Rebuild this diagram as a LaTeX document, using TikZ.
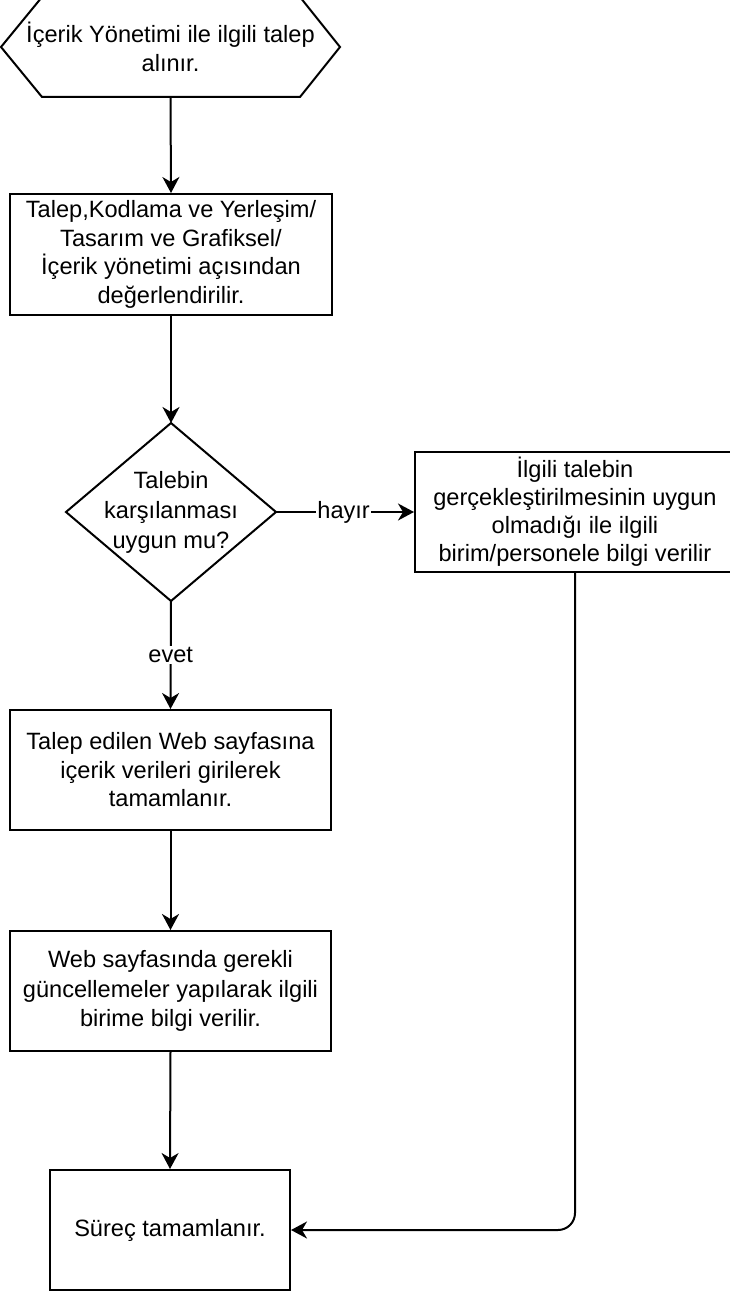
\documentclass[tikz,border=0pt]{standalone}
\usepackage{fontspec}
\setmainfont{Liberation Sans}
\usetikzlibrary{arrows.meta}
\begin{document}
\begin{tikzpicture}[x=1pt,y=-1pt,
  line width=2pt,
  txt/.style={font=\fontsize{23.6}{28.5}\selectfont, align=center, inner sep=0pt},
  box/.style={draw, txt, line width=2pt},
  arr/.style={-{Stealth[length=16pt,width=17pt,inset=5pt]}, line width=2pt},
  lbl/.style={font=\fontsize{23.6}{28.5}\selectfont, fill=white, inner sep=1pt}
]
\useasboundingbox (0,0) rectangle (730,1295);
\clip (0,0) rectangle (730,1295);
% hexagon
\draw (1,47) -- (42,-3) -- (300,-3) -- (340,47) -- (300,97) -- (42,97) -- cycle;
\node[txt, minimum width=339pt, minimum height=100pt] (hex) at (170.5,47) {İçerik Yönetimi ile ilgili talep\\alınır.};
% step 2
\node[box, minimum width=322pt, minimum height=121pt] (eval) at (171,254.5) {Talep,Kodlama ve Yerleşim/\\Tasarım ve Grafiksel/\\İçerik yönetimi açısından\\değerlendirilir.};
% decision
\node[txt, minimum width=208pt, minimum height=176pt, font=\fontsize{23.6}{30}\selectfont] (dec) at (171,512) {Talebin\\karşılanması\\uygun mu?};
\draw (dec.north) -- (dec.east) -- (dec.south) -- (dec.west) -- cycle;
% right box
\node[box, minimum width=320pt, minimum height=120pt, font=\fontsize{23.6}{28}\selectfont] (no) at (575,512) {İlgili talebin\\gerçekleştirilmesinin uygun\\olmadığı ile ilgili\\birim/personele bilgi verilir};
% step 3
\node[box, minimum width=321pt, minimum height=120pt] (fill) at (170.5,770) {Talep edilen Web sayfasına\\içerik verileri girilerek\\tamamlanır.};
% step 4
\node[box, minimum width=321pt, minimum height=120pt, font=\fontsize{23.6}{29.5}\selectfont] (upd) at (170.5,991) {Web sayfasında gerekli\\güncellemeler yapılarak ilgili\\birime bilgi verilir.};
% end
\node[box, minimum width=240pt, minimum height=120pt] (end) at (170,1230) {Süreç tamamlanır.};
% connectors
\draw[arr] (hex.south) -- (eval.north);
\draw[arr] (eval.south) -- (dec.north);
\draw[arr] (dec.east) -- node[lbl, pos=0.49] {hayır} (no.west);
\draw[arr] (dec.south) -- node[lbl, pos=0.5] {evet} (fill.north);
\draw[arr] (fill.south) -- (upd.north);
\draw[arr] (upd.south) -- (end.north);
\draw[arr, rounded corners=17pt] (no.south) |- (end.east);
\end{tikzpicture}
\end{document}
